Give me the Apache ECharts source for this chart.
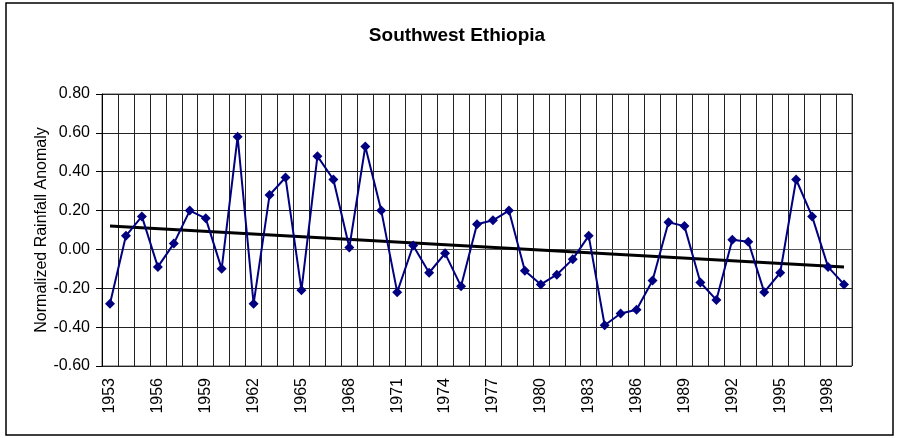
<!DOCTYPE html>
<html>
<head>
<meta charset="utf-8">
<script src="https://cdn.jsdelivr.net/npm/echarts@6/dist/echarts.min.js"></script>
<style>
  html, body { margin: 0; padding: 0; background: #fff; }
  #chart { width: 898px; height: 438px; }
</style>
</head>
<body>
<div id="chart"></div>
<script>
// years on the category axis
var years = [];
for (var y = 1953; y <= 1999; y++) years.push(String(y));

// normalized rainfall anomaly
var anomaly = [
  -0.28, 0.07, 0.17, -0.09, 0.03, 0.20, 0.16, -0.10, 0.58, -0.28,
  0.28, 0.37, -0.21, 0.48, 0.36, 0.01, 0.53, 0.20, -0.22, 0.02,
  -0.12, -0.02, -0.19, 0.13, 0.15, 0.20, -0.11, -0.18, -0.13, -0.05,
  0.07, -0.39, -0.33, -0.31, -0.16, 0.14, 0.12, -0.17, -0.26, 0.05,
  0.04, -0.22, -0.12, 0.36, 0.17, -0.09, -0.18
];

// linear trend, ends
var trendStart = 0.12;
var trendEnd = -0.09;
var trend = years.map(function (v, i) {
  if (i === 0) return trendStart;
  if (i === years.length - 1) return trendEnd;
  return null;
});

var chart = echarts.init(document.getElementById('chart'));
chart.setOption({
  animation: false,
  backgroundColor: '#fff',
  textStyle: { fontFamily: 'Liberation Sans, Arial, sans-serif' },
  title: {
    text: 'Southwest Ethiopia',
    left: 452,
    top: 21,
    textAlign: 'center',
    textStyle: { fontSize: 19, fontWeight: 'bold', color: '#000' }
  },
  graphic: [{
    type: 'rect',
    shape: { x: 6, y: 3, width: 887, height: 432 },
    style: { fill: null, stroke: '#000', lineWidth: 1.5 },
    silent: true
  }],
  grid: {
    left: 102, top: 94, right: 46, bottom: 72,
    show: true, borderColor: '#555', borderWidth: 1
  },
  xAxis: {
    type: 'category',
    data: years,
    boundaryGap: true,
    axisLine: { lineStyle: { color: '#555' } },
    axisTick: { show: false },
    axisLabel: {
      interval: 2, rotate: 90, margin: 12,
      fontSize: 16, color: '#000'
    },
    splitLine: { show: true, interval: 0, lineStyle: { color: '#222', width: 1 } }
  },
  yAxis: {
    type: 'value',
    min: -0.6, max: 0.8, interval: 0.2,
    name: 'Normalized Rainfall Anomaly',
    nameLocation: 'middle',
    nameGap: 52,
    nameMoveOverlap: false,
    nameTextStyle: { fontSize: 16, color: '#000' },
    axisLine: { show: true, lineStyle: { color: '#000' } },
    axisTick: { show: true, length: 6, lineStyle: { color: '#000' } },
    axisLabel: {
      fontSize: 16, color: '#000', margin: 12,
      formatter: function (v) { return v.toFixed(2); }
    },
    splitLine: { show: true, lineStyle: { color: '#222', width: 1 } }
  },
  series: [{
    type: 'line',
    data: anomaly,
    symbol: 'diamond',
    symbolSize: 10,
    lineStyle: { color: '#000080', width: 2 },
    itemStyle: { color: '#000080' },
    z: 3
  }, {
    type: 'line',
    data: trend,
    connectNulls: true,
    symbol: 'none',
    lineStyle: { color: '#000', width: 3 },
    z: 2
  }]
});
</script>
</body>
</html>
